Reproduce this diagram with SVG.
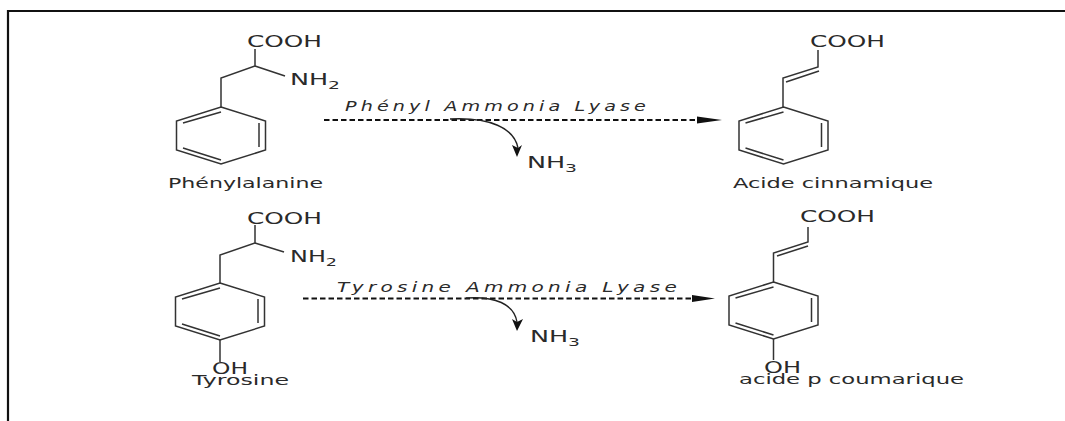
<svg xmlns="http://www.w3.org/2000/svg" width="1065" height="421" viewBox="0 0 1065 421">
<style>
.b{fill:none;stroke:#333;stroke-width:1.5}
.t{font-family:"DejaVu Sans",sans-serif;fill:#2a2a2a}
.f{font-size:15px}
.l{font-size:14px}
.e{font-size:14px;font-style:italic;letter-spacing:3px}
.d{fill:none;stroke:#111;stroke-width:1.8;stroke-dasharray:5.500 3}
.c{fill:none;stroke:#222;stroke-width:1.4}
.s{font-size:11px}
.h{fill:#111}
</style>
<defs>
<g id="ring"><path class="b" d="M0 0L44.500 14V43L0 57L-44.500 43V14Z M-38 16L0 5 M38 16V40 M-38 41L0 53"/></g>
</defs>
<path id="frame" d="M8 421V11H1065" fill="none" stroke="#111" stroke-width="2.200"/>
<g id="phenylalanine">
<path class="b" d="M255 49V66L221 78V107"/><path class="b" d="M255 66L285 76"/>
<use href="#ring" x="221" y="107"/>
<text class="t f" x="247" y="47" textLength="75" lengthAdjust="spacingAndGlyphs">COOH</text>
<text class="t f" x="290" y="85" textLength="50" lengthAdjust="spacingAndGlyphs">NH<tspan class="s" dy="4">2</tspan></text>
<text class="t l" x="168" y="188" textLength="155" lengthAdjust="spacingAndGlyphs">Phénylalanine</text>
</g>
<g id="tyrosine">
<path class="b" d="M255 225V243L220 255V283"/><path class="b" d="M255 243L284 252"/>
<use href="#ring" x="220" y="283"/>
<path class="b" d="M220 340V362"/>
<text class="t f" x="247" y="224" textLength="75" lengthAdjust="spacingAndGlyphs">COOH</text>
<text class="t f" x="290" y="262" textLength="47" lengthAdjust="spacingAndGlyphs">NH<tspan class="s" dy="4">2</tspan></text>
<text class="t f" x="212" y="374" textLength="36" lengthAdjust="spacingAndGlyphs">OH</text>
<text class="t l" x="192" y="385" textLength="97" lengthAdjust="spacingAndGlyphs">Tyrosine</text>
</g>
<g id="cinnamique">
<path class="b" d="M818 50V67L783 78V107"/><path class="b" d="M819 71L786 82"/>
<use href="#ring" x="783.500" y="107"/>
<text class="t f" x="810" y="47" textLength="75" lengthAdjust="spacingAndGlyphs">COOH</text>
<text class="t l" x="733" y="188" textLength="200" lengthAdjust="spacingAndGlyphs">Acide cinnamique</text>
</g>
<g id="coumarique">
<path class="b" d="M808 227V242L773.500 253V282"/><path class="b" d="M808 246L777 256"/>
<use href="#ring" x="773.500" y="282"/>
<path class="b" d="M773.500 339V360"/>
<text class="t f" x="800" y="222" textLength="75" lengthAdjust="spacingAndGlyphs">COOH</text>
<text class="t f" x="764" y="373" textLength="37" lengthAdjust="spacingAndGlyphs">OH</text>
<text class="t l" x="739" y="384" textLength="225" lengthAdjust="spacingAndGlyphs">acide p coumarique</text>
</g>
<g id="connectors">
<path class="d" d="M324 120H698"/><path class="h" d="M697 116.500L722 120L697 123.500Z"/>
<path class="c" d="M450 119C490 117 514 128 518 148"/><path class="h" d="M512 145L518 148L522 145L517 157Z"/>
<path class="d" d="M303 298.500H693"/><path class="h" d="M692 295L715 298.500L692 302Z"/>
<path class="c" d="M466 298C495 296 514 304 517 322"/><path class="h" d="M512 319L517 322L523 319L517 331Z"/>
</g>
<g id="labels">
<text class="t e" x="345" y="111" textLength="305" lengthAdjust="spacingAndGlyphs">Phényl Ammonia Lyase</text>
<text class="t e" x="337" y="292" textLength="344" lengthAdjust="spacingAndGlyphs">Tyrosine Ammonia Lyase</text>
<text class="t f" x="527" y="168" textLength="50" lengthAdjust="spacingAndGlyphs">NH<tspan class="s" dy="4">3</tspan></text>
<text class="t f" x="530" y="342" textLength="50" lengthAdjust="spacingAndGlyphs">NH<tspan class="s" dy="4">3</tspan></text>
</g>
</svg>
